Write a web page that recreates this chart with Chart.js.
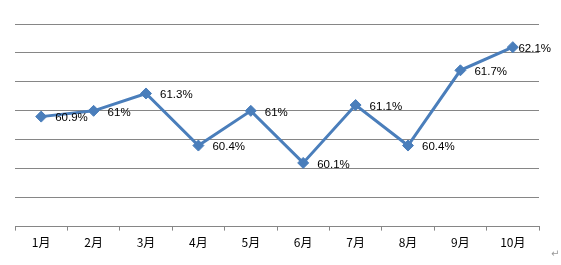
<!DOCTYPE html>
<html>
<head>
<meta charset="utf-8">
<script src="https://cdn.jsdelivr.net/npm/chart.js@4"></script>
<style>
html,body{margin:0;padding:0;background:#fff;}
#wrap{position:relative;width:561px;height:265px;}
#mark{position:absolute;left:551px;top:248px;font:10px "DejaVu Sans";color:#999;}
</style>
</head>
<body>
<div id="wrap">
<canvas id="c" width="561" height="265"></canvas>
<span id="mark">↵</span>
</div>
<script>
const categories = ['1月','2月','3月','4月','5月','6月','7月','8月','9月','10月'];
const values = [60.9, 61, 61.3, 60.4, 61, 60.1, 61.1, 60.4, 61.7, 62.1];
const valueLabels = ['60.9%','61%','61.3%','60.4%','61%','60.1%','61.1%','60.4%','61.7%','62.1%'];

const labelPlugin = {
  id: 'pointLabels',
  afterDatasetsDraw(chart) {
    const ctx = chart.ctx;
    const meta = chart.getDatasetMeta(0);
    ctx.save();
    ctx.font = '11.5px "Liberation Sans", Arial, sans-serif';
    ctx.fillStyle = '#000';
    ctx.textBaseline = 'middle';
    ctx.textAlign = 'left';
    meta.data.forEach((pt, i) => {
      const t = valueLabels[i];
      const w = ctx.measureText(t).width;
      let x = pt.x + 14;
      if (x + w > chart.width - 10) x = chart.width - 10 - w;
      ctx.fillText(t, x, pt.y + 1.5);
    });
    ctx.restore();
  }
};

new Chart(document.getElementById('c'), {
  type: 'line',
  data: {
    labels: categories,
    datasets: [{
      data: values,
      borderColor: '#4a7ebb',
      backgroundColor: '#4a7ebb',
      borderWidth: 3,
      pointStyle: 'rectRot',
      pointRadius: 5.5,
      pointHoverRadius: 5.5,
      pointBorderWidth: 1,
      tension: 0,
      fill: false
    }]
  },
  options: {
    responsive: false,
    animation: false,
    events: [],
    layout: { padding: { left: 15, right: 22, top: 24, bottom: 10 } },
    plugins: { legend: { display: false }, tooltip: { enabled: false } },
    scales: {
      x: {
        offset: true,
        grid: { offset: true, drawOnChartArea: false, drawTicks: true, tickLength: 4, color: '#868686' },
        border: { display: true, color: '#868686', width: 1 },
        ticks: { color: '#000', padding: 5, font: { family: '"Noto Sans CJK SC", sans-serif', size: 12 }, maxRotation: 0 }
      },
      y: {
        min: 59, max: 62.5,
        ticks: { display: false, stepSize: 0.5 },
        grid: { drawTicks: false, color: '#868686' },
        border: { display: false }
      }
    }
  },
  plugins: [labelPlugin]
});
</script>
</body>
</html>
